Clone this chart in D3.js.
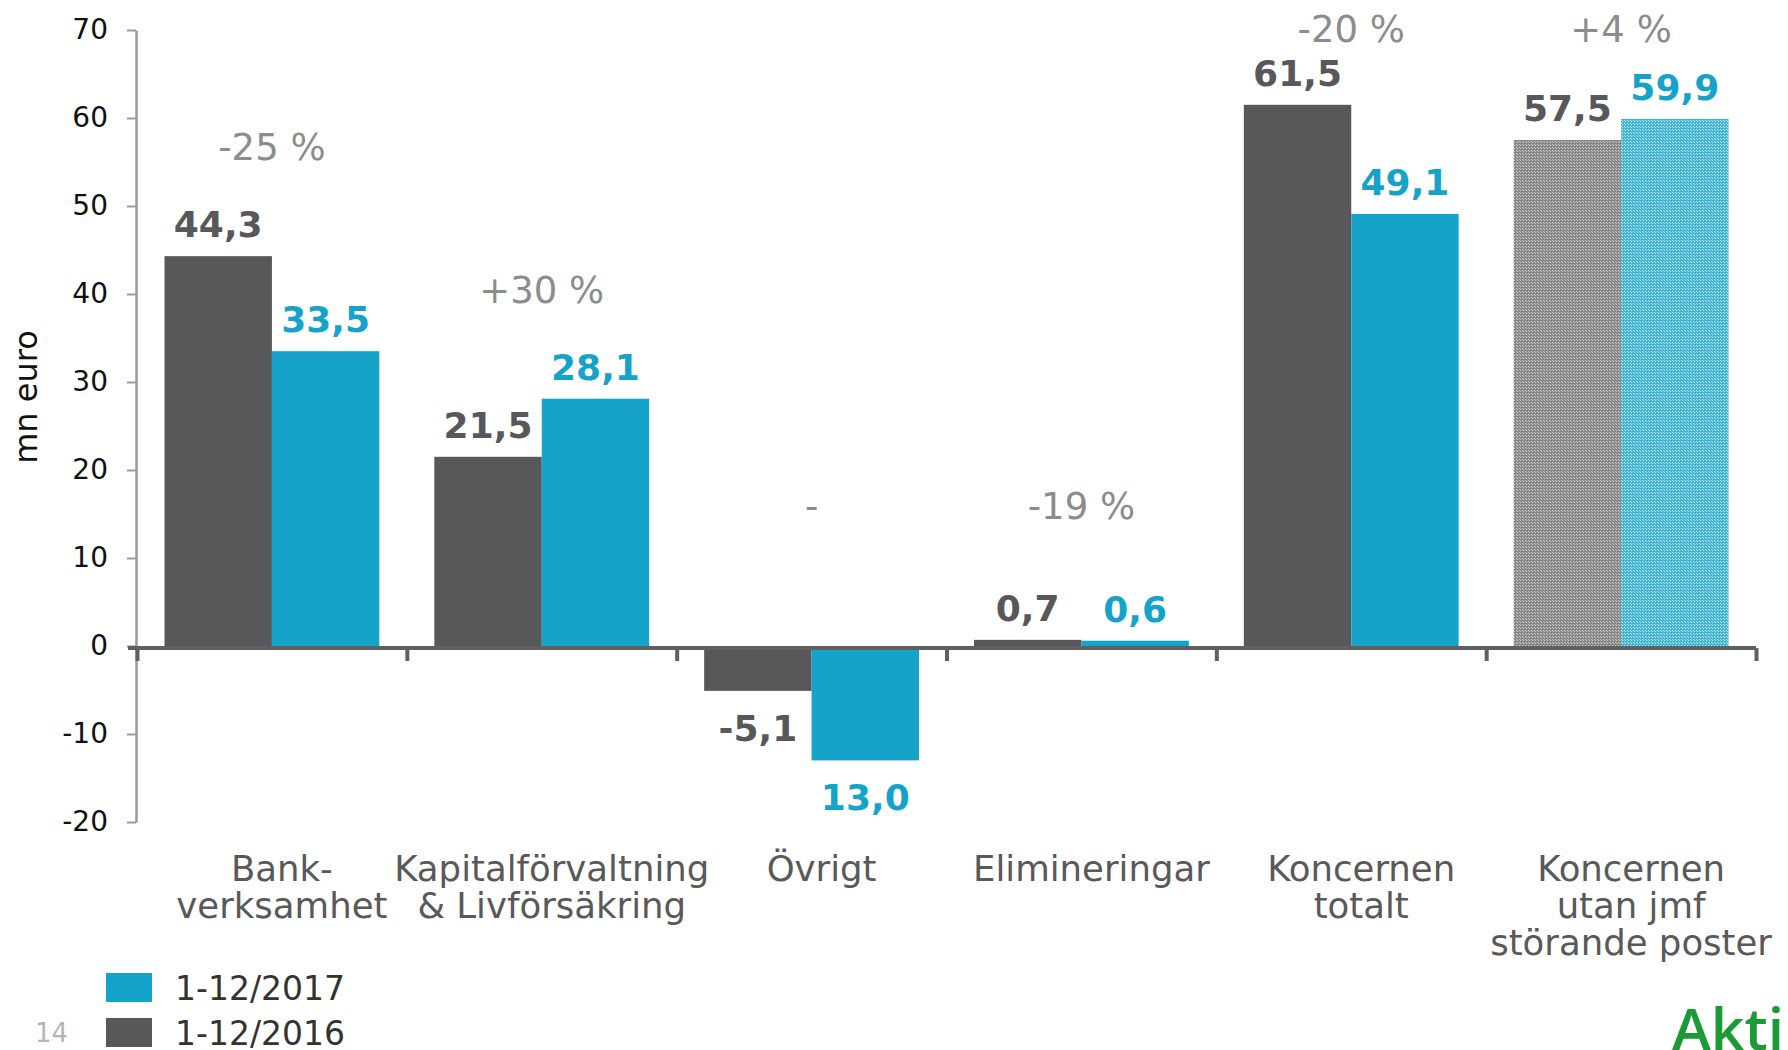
<!DOCTYPE html>
<html>
<head>
<meta charset="utf-8">
<script src="https://cdn.jsdelivr.net/npm/d3@7"></script>
<style>
  body { margin: 0; background: #fff; }
  svg { display: block; font-family: "DejaVu Sans", Verdana, sans-serif; }
</style>
</head>
<body>
<div id="chart"></div>
<script>
/**
 * Data
 */
const categories = [
  "Bank-\nverksamhet",
  "Kapitalförvaltning\n& Livförsäkring",
  "Övrigt",
  "Elimineringar",
  "Koncernen\ntotalt",
  "Koncernen\nutan jmf\nstörande poster"
];
const series = ["1-12/2016", "1-12/2017"];
const values2016 = [44.3, 21.5, -5.1, 0.7, 61.5, 57.5];
const values2017 = [33.5, 28.1, -13.0, 0.6, 49.1, 59.9];
const labels2016 = ["44,3", "21,5", "-5,1", "0,7", "61,5", "57,5"];
const labels2017 = ["33,5", "28,1", "13,0", "0,6", "49,1", "59,9"];
const changes = ["-25 %", "+30 %", "-", "-19 %", "-20 %", "+4 %"];
const yTicks = [-20, -10, 0, 10, 20, 30, 40, 50, 60, 70];
const hatchedCategories = ["Koncernen\nutan jmf\nstörande poster"];

/**
 * Settings
 */
const width = 1788;
const height = 1050;
const gray = "#58585a";
const blue = "#16a3c9";
const colors = { "1-12/2016": gray, "1-12/2017": blue };

const svg = d3.select("#chart")
  .append("svg")
  .attr("width", width)
  .attr("height", height);

// dotted fills for the last group
const defs = svg.append("defs");
function addPattern(id, dark, light) {
  const p = defs.append("pattern")
    .attr("id", id)
    .attr("patternUnits", "userSpaceOnUse")
    .attr("width", 3)
    .attr("height", 3);
  p.append("rect").attr("width", 3).attr("height", 3).attr("fill", dark);
  p.append("rect").attr("x", 1).attr("y", 1).attr("width", 1).attr("height", 1).attr("fill", light);
  p.append("rect").attr("x", 0).attr("y", 0).attr("width", 1).attr("height", 1).attr("fill", light);
}
addPattern("hatch-gray", "#858585", "#d8d8d8");
addPattern("hatch-blue", "#3fb3d3", "#d6eff6");
const patterns = { "1-12/2016": "url(#hatch-gray)", "1-12/2017": "url(#hatch-blue)" };

/**
 * Scales
 */
const x0 = d3.scaleBand()
  .domain(categories)
  .range([137, 1756])
  .padding(0);

const x1 = d3.scaleBand()
  .domain(series)
  .range([0, x0.bandwidth()])
  .paddingInner(0)
  .paddingOuter(0.256);

const y = d3.scaleLinear()
  .domain([-20, 70])
  .range([822, 30]);

const rows = categories.map((c, i) => ({
  cat: c,
  change: changes[i],
  bars: [
    { s: series[0], v: values2016[i], label: labels2016[i] },
    { s: series[1], v: values2017[i], label: labels2017[i] }
  ]
}));

/**
 * Y axis
 */
const yAxis = svg.append("g")
  .attr("transform", "translate(136,0)")
  .call(d3.axisLeft(y).tickValues(yTicks).tickSize(9).tickSizeOuter(0).tickPadding(19)
    .tickFormat(d => String(d)));
yAxis.select(".domain").attr("stroke", "#9a9a9a").attr("stroke-width", 2.5);
yAxis.selectAll(".tick line").attr("stroke", "#9a9a9a").attr("stroke-width", 2);
yAxis.selectAll(".tick text")
  .attr("fill", "#111")
  .style("font-size", "28px")
  .style("font-family", "DejaVu Sans, sans-serif");

svg.append("text")
  .attr("transform", "translate(37, 397) rotate(-90)")
  .attr("text-anchor", "middle")
  .style("font-size", "32px")
  .attr("fill", "#111")
  .text("mn euro");

/**
 * Bars
 */
const group = svg.selectAll("g.cat")
  .data(rows)
  .join("g")
  .attr("class", "cat")
  .attr("transform", d => `translate(${x0(d.cat)},0)`);

group.selectAll("rect")
  .data(d => d.bars.map(b => ({ ...b, cat: d.cat })))
  .join("rect")
  .attr("x", d => x1(d.s))
  .attr("y", d => y(Math.max(d.v, 0)))
  .attr("width", x1.bandwidth())
  .attr("height", d => Math.abs(y(d.v) - y(0)))
  .attr("fill", d => hatchedCategories.includes(d.cat) ? patterns[d.s] : colors[d.s]);

group.selectAll("text.val")
  .data(d => d.bars)
  .join("text")
  .attr("class", "val")
  .attr("x", d => x1(d.s) + x1.bandwidth() / 2)
  .attr("y", d => d.v >= 0 ? y(d.v) - 19 : y(d.v) + 50)
  .attr("text-anchor", "middle")
  .style("font-size", "36px")
  .style("font-weight", "bold")
  .attr("fill", d => colors[d.s])
  .text(d => d.label);

// change labels above each group
group.append("text")
  .attr("x", x0.bandwidth() / 2)
  .attr("y", d => Math.max(42, y(Math.max(d3.max(d.bars, b => b.v), 3.5)) - 96))
  .attr("text-anchor", "middle")
  .style("font-size", "37px")
  .attr("fill", "#8c8c8c")
  .text(d => d.change);

/**
 * X axis (zero line with group separators)
 */
const xb = d3.scaleLinear().domain([0, categories.length]).range(x0.range());
const xAxis = svg.append("g")
  .attr("transform", `translate(0,${y(0) + 2})`)
  .call(d3.axisBottom(xb).ticks(categories.length).tickSize(13).tickSizeOuter(0).tickFormat(""));
xAxis.select(".domain")
  .attr("d", `M128,0H${x0.range()[1]}`)
  .attr("stroke", "#606060")
  .attr("stroke-width", 4);
xAxis.selectAll(".tick line").attr("stroke", "#606060").attr("stroke-width", 4);

// category labels
const catLabel = svg.selectAll("text.cat")
  .data(categories)
  .join("text")
  .attr("class", "cat")
  .attr("text-anchor", "middle")
  .style("font-size", "35.5px")
  .attr("fill", "#595959");
catLabel.selectAll("tspan")
  .data(d => d.split("\n").map(t => ({ t, c: d })))
  .join("tspan")
  .attr("x", d => x0(d.c) + x0.bandwidth() / 2 + 10)
  .attr("y", (d, i) => 881 + i * 37)
  .text(d => d.t);

/**
 * Legend
 */
const legendItems = [series[1], series[0]];
const legend = svg.selectAll("g.legend")
  .data(legendItems)
  .join("g")
  .attr("class", "legend")
  .attr("transform", (d, i) => `translate(106, ${973 + i * 45})`);
legend.append("rect")
  .attr("width", 46)
  .attr("height", 29)
  .attr("fill", d => colors[d]);
legend.append("text")
  .attr("x", 69)
  .attr("y", 27)
  .style("font-size", "33px")
  .attr("fill", "#333")
  .text(d => d);

// page number and logo
svg.append("text")
  .attr("x", 35)
  .attr("y", 1042)
  .style("font-size", "26px")
  .attr("fill", "#b5b5b5")
  .text("14");

svg.append("text")
  .attr("x", 1672)
  .attr("y", 1050)
  .attr("textLength", 112)
  .attr("lengthAdjust", "spacingAndGlyphs")
  .style("font-family", "Open Sans, sans-serif")
  .style("font-size", "58px")
  .style("font-weight", 600)
  .attr("fill", "#1c9a36")
  .text("Akti");
</script>
</body>
</html>
